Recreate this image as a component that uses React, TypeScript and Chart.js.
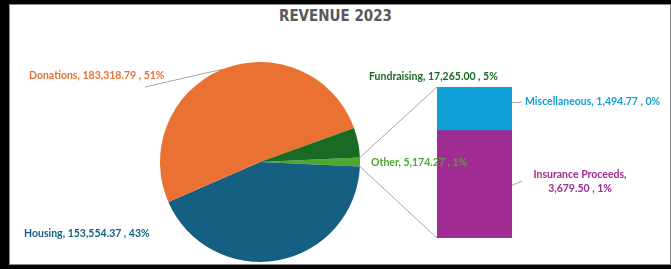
import React, { useEffect, useRef } from "react";
import { Chart, registerables } from "chart.js";

Chart.register(...registerables);

// ---- data ----
const chartTitle = "REVENUE 2023";

const pieLabels = ["Other", "Housing", "Donations", "Fundraising"];
const pieValues = [5174.27, 153554.37, 183318.79, 17265.0];
const pieColors = ["#4EA72E", "#156082", "#E97132", "#196B24"];

const barLabels = ["Insurance Proceeds", "Miscellaneous"];
const barValues = [3679.5, 1494.77];
const barColors = ["#A02B93", "#0F9ED5"];

// ---- helpers ----
const pieTotal = pieValues.reduce((a, b) => a + b, 0);
const barTotal = barValues.reduce((a, b) => a + b, 0);
const fmt = (v: number) =>
  v.toLocaleString("en-US", { minimumFractionDigits: 2, maximumFractionDigits: 2 });
const pct = (v: number) => Math.round((v / pieTotal) * 100) + "%";
const labelText = (name: string, v: number) => `${name}, ${fmt(v)} , ${pct(v)}`;

const W = 671;
const H = 269;
const BAR_BOX = { left: 437, top: 87, width: 75, height: 151 };
const LABEL_FONT = 'bold 10.5px Lato, "Open Sans", sans-serif';
const LINE_COLOR = "#A6A6A6";

export default function App() {
  const pieRef = useRef<HTMLCanvasElement>(null);
  const barRef = useRef<HTMLCanvasElement>(null);

  useEffect(() => {
    if (!pieRef.current || !barRef.current) return;

    const barChart = new Chart(barRef.current, {
      type: "bar",
      data: {
        labels: [""],
        datasets: barValues.map((v, i) => ({
          label: barLabels[i],
          data: [v],
          backgroundColor: barColors[i],
          borderWidth: 0,
          barPercentage: 1,
          categoryPercentage: 1,
        })),
      },
      options: {
        animation: false,
        responsive: false,
        maintainAspectRatio: false,
        layout: { padding: 0 },
        plugins: { legend: { display: false }, tooltip: { enabled: false } },
        scales: {
          x: { stacked: true, display: false },
          y: { stacked: true, display: false, min: 0, max: barTotal },
        },
      },
    });

    const labelPlugin = {
      id: "pieOfBarLabels",
      afterDraw(chart: any) {
        const ctx = chart.ctx as CanvasRenderingContext2D;
        const arcs = chart.getDatasetMeta(0).data as any[];
        const edge = (arc: any, ang: number) => ({
          x: arc.x + Math.cos(ang) * arc.outerRadius,
          y: arc.y + Math.sin(ang) * arc.outerRadius,
        });

        // bar geometry from bar chart
        const bottomEl: any = barChart.getDatasetMeta(0).data[0];
        const topEl: any = barChart.getDatasetMeta(barValues.length - 1).data[0];
        const barLeft = BAR_BOX.left + bottomEl.x - bottomEl.width / 2;
        const barRight = BAR_BOX.left + bottomEl.x + bottomEl.width / 2;
        const barTop = BAR_BOX.top + topEl.y;
        const barBottom = BAR_BOX.top + bottomEl.base;
        const barSplit = BAR_BOX.top + bottomEl.y;

        ctx.save();
        ctx.strokeStyle = LINE_COLOR;
        ctx.lineWidth = 1;

        // connector lines from "Other" slice to the bar
        const other = arcs[0];
        const p1 = edge(other, other.startAngle);
        const p2 = edge(other, other.endAngle);
        ctx.beginPath();
        ctx.moveTo(p1.x, p1.y);
        ctx.lineTo(barLeft, barTop);
        ctx.moveTo(p2.x, p2.y);
        ctx.lineTo(barLeft, barBottom);
        ctx.stroke();

        // donations leader line
        const don = arcs[2];
        const dm = edge(don, (don.startAngle + don.endAngle) / 2);
        ctx.beginPath();
        ctx.moveTo(145, 87);
        ctx.lineTo(dm.x, dm.y);
        ctx.stroke();

        // bar label leaders
        const miscMid = (barTop + barSplit) / 2;
        const insMid = (barSplit + barBottom) / 2;
        ctx.beginPath();
        ctx.moveTo(barRight, miscMid - 6);
        ctx.lineTo(barRight + 10, 102);
        ctx.moveTo(barRight, insMid + 1);
        ctx.lineTo(barRight + 10, 181);
        ctx.stroke();

        // labels
        ctx.font = LABEL_FONT;
        ctx.textBaseline = "middle";
        ctx.textAlign = "left";
        const put = (t: string, x: number, y: number, c: string) => {
          ctx.fillStyle = c;
          ctx.fillText(t, x, y);
        };
        put(labelText(pieLabels[2], pieValues[2]), 29, 76, pieColors[2]);
        put(labelText(pieLabels[1], pieValues[1]), 24, 234, pieColors[1]);
        put(labelText(pieLabels[3], pieValues[3]), 369, 77, pieColors[3]);
        put(labelText(pieLabels[0], pieValues[0]), 371, 163, pieColors[0]);
        put(labelText(barLabels[1], barValues[1]), 525, 102, barColors[1]);
        ctx.textAlign = "center";
        put(barLabels[0] + ",", 580, 175, barColors[0]);
        put(`${fmt(barValues[0])} , ${pct(barValues[0])}`, 580, 189, barColors[0]);
        ctx.restore();
      },
    };

    const pieChart = new Chart(pieRef.current, {
      type: "pie",
      data: {
        labels: pieLabels,
        datasets: [
          {
            data: pieValues,
            backgroundColor: pieColors,
            borderWidth: 0,
            hoverBorderWidth: 0,
            hoverOffset: 0,
            borderColor: "transparent",
          },
        ],
      },
      options: {
        animation: false,
        responsive: false,
        maintainAspectRatio: false,
        rotation: 90 - ((pieValues[0] / pieTotal) * 360) / 2,
        layout: { padding: { left: 160, top: 62, right: W - 360, bottom: H - 262 } },
        plugins: { legend: { display: false }, tooltip: { enabled: false } },
      },
      plugins: [labelPlugin],
    });

    return () => {
      pieChart.destroy();
      barChart.destroy();
    };
  }, []);

  return (
    <div
      style={{
        position: "fixed",
        left: 0,
        top: 0,
        width: W,
        height: H,
        background: "#000",
        overflow: "hidden",
      }}
    >
      <div
        style={{
          position: "absolute",
          left: 9,
          top: 4,
          width: 662,
          height: 261,
          boxSizing: "border-box",
          border: "1px solid #8a8a8a",
          background: "#fff",
        }}
      />
      <div
        style={{
          position: "absolute",
          left: 0,
          top: 7,
          width: W,
          textAlign: "center",
          font: 'bold 15px "Liberation Sans Narrow", "DejaVu Sans Condensed", sans-serif',
          color: "#595959",
          lineHeight: "18px",
        }}
      >
        {chartTitle}
      </div>
      <canvas
        ref={barRef}
        width={BAR_BOX.width}
        height={BAR_BOX.height}
        style={{
          position: "absolute",
          left: BAR_BOX.left,
          top: BAR_BOX.top,
          width: BAR_BOX.width,
          height: BAR_BOX.height,
        }}
      />
      <canvas
        ref={pieRef}
        width={W}
        height={H}
        style={{ position: "absolute", left: 0, top: 0, width: W, height: H }}
      />
    </div>
  );
}
